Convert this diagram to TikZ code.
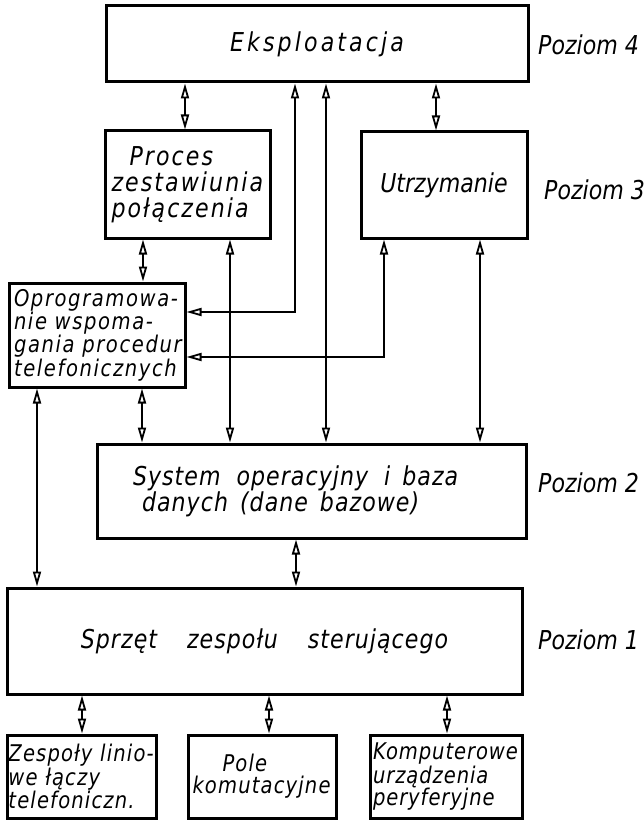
\documentclass[tikz,border=0pt]{standalone}
\usepackage{fontspec}
\newfontfamily\tech[FakeStretch=0.85]{DejaVu Sans}
\usetikzlibrary{arrows.meta}
\begin{document}
\begin{tikzpicture}[x=1pt,y=-1pt,
  box/.style={draw, line width=3pt, inner sep=0pt, align=left,
    font=\tech\itshape\fontsize{26}{26}\selectfont},
  small/.style={font=\tech\itshape\fontsize{23}{22}\selectfont},
  lvl/.style={anchor=west, inner sep=0pt, font=\tech\itshape\fontsize{26}{26}\selectfont},
  dbl/.style={line width=1.8pt,
    {Triangle[open,length=15pt,width=8pt]}-{Triangle[open,length=15pt,width=8pt]}},
]
\useasboundingbox (0,0) rectangle (644,821);

% boxes
\node[box, minimum width=422pt, minimum height=76pt] (eksp) at (317,44)
  {\addfontfeature{LetterSpace=12}Eksploatacja};
\node[box, text width=152pt, minimum width=165pt, minimum height=107pt] (proc) at (187.5,184.5)
  {\addfontfeature{LetterSpace=8}\hspace*{18pt}Proces\\zestawiunia\\połączenia};
\node[box, minimum width=166pt, minimum height=106pt] (utrz) at (444,185)
  {Utrzymanie};
\node[box, small, text width=166pt, minimum width=176pt, minimum height=104pt] (oprog) at (97,335)
  {\addfontfeature{LetterSpace=7}Oprogramowa-\\nie wspoma-\\gania procedur\\telefonicznych};
\node[box, text width=357pt, minimum width=429pt, minimum height=94pt] (sys) at (311.5,491)
  {\addfontfeature{LetterSpace=4}System\hspace{16pt}operacyjny\hspace{16pt}i\hspace{12pt}baza\\\hspace*{9pt}danych\hspace{12pt}(dane\hspace{12pt}bazowe)};
\node[box, minimum width=515pt, minimum height=106pt] (sprz) at (264.5,641)
  {\addfontfeature{LetterSpace=4}Sprzęt\hspace{30pt}zespołu\hspace{30pt}sterującego};
\node[box, small, text width=146pt, minimum width=149pt, minimum height=83pt] (zesp) at (81.5,776.5)
  {\fontsize{23}{24}\selectfont\addfontfeature{LetterSpace=5}Zespoły linio-\\we łączy\\telefoniczn.};
\node[box, small, text width=139pt, minimum width=148pt, minimum height=83pt] (pole) at (262,776.5)
  {\fontsize{23}{28}\selectfont\addfontfeature{LetterSpace=5}\hspace*{30pt}Pole\\komutacyjne};
\node[box, small, text width=146pt, minimum width=152pt, minimum height=83pt] (komp) at (446,776.5)
  {\fontsize{23}{24}\selectfont\addfontfeature{LetterSpace=4}Komputerowe\\urządzenia\\peryferyjne};

% levels
\node[lvl] (p4) at (538,45) {Poziom 4};
\node[lvl] (p3) at (544,190) {Poziom 3};
\node[lvl] (p2) at (538,483) {Poziom 2};
\node[lvl] (p1) at (538,640) {Poziom 1};

% connectors
\draw[dbl] (185,0 |- eksp.south) -- (185,0 |- proc.north);
\draw[dbl] (436,0 |- eksp.south) -- (436,0 |- utrz.north);
\draw[dbl] (295,0 |- eksp.south) -- (295,312) -- (oprog.east |- 0,312);
\draw[dbl] (326,0 |- eksp.south) -- (326,0 |- sys.north);
\draw[dbl] (143,0 |- proc.south) -- (143,0 |- oprog.north);
\draw[dbl] (230,0 |- proc.south) -- (230,0 |- sys.north);
\draw[dbl] (384,0 |- utrz.south) -- (384,357) -- (oprog.east |- 0,357);
\draw[dbl] (480,0 |- utrz.south) -- (480,0 |- sys.north);
\draw[dbl] (142,0 |- oprog.south) -- (142,0 |- sys.north);
\draw[dbl] (37,0 |- oprog.south) -- (37,0 |- sprz.north);
\draw[dbl] (296,0 |- sys.south) -- (296,0 |- sprz.north);
\draw[dbl] (82,0 |- sprz.south) -- (82,0 |- zesp.north);
\draw[dbl] (269,0 |- sprz.south) -- (269,0 |- pole.north);
\draw[dbl] (447,0 |- sprz.south) -- (447,0 |- komp.north);
\end{tikzpicture}
\end{document}
